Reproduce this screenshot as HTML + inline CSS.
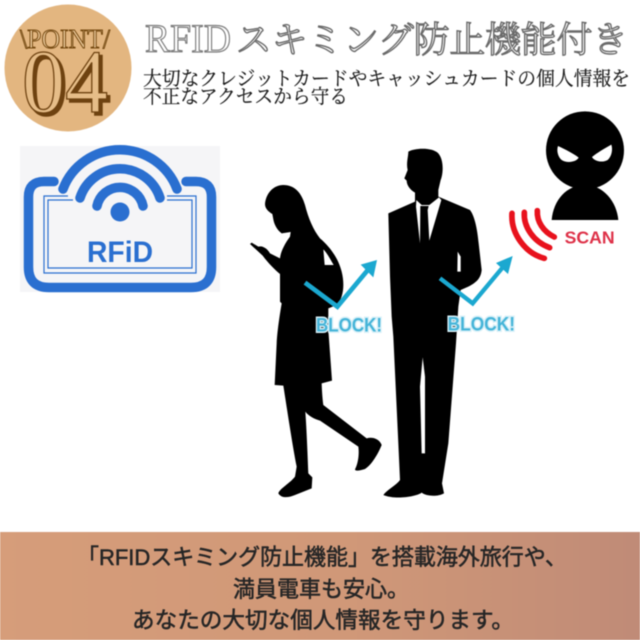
<!DOCTYPE html>
<html lang="ja">
<head>
<meta charset="utf-8">
<title>RFID</title>
<style>
html,body{margin:0;padding:0;background:#fff;width:640px;height:640px;overflow:hidden}
svg{display:block;filter:blur(.5px)}
.serif{font-family:"Liberation Serif","Noto Serif CJK SC",serif}
.sans{font-family:"Liberation Sans","Noto Sans CJK JP",sans-serif}
</style>
</head>
<body>
<svg width="640" height="640" viewBox="0 0 640 640" xmlns="http://www.w3.org/2000/svg">
<defs>
<linearGradient id="band" x1="0" x2="1" y1="0" y2="0">
<stop offset="0" stop-color="#d69d7a"/><stop offset=".55" stop-color="#d09878"/><stop offset="1" stop-color="#c08b77"/>
</linearGradient>
</defs>
<rect width="640" height="640" fill="#fff"/>

<!-- Badge -->
<circle cx="68" cy="68" r="63.5" fill="#e3b680"/>
<text class="serif" x="20" y="48" font-size="27" textLength="90" lengthAdjust="spacingAndGlyphs" fill="#ecca9c" stroke="#74480f" stroke-width="1">\POINT/</text>
<text class="serif" x="25" y="115" font-size="90" textLength="86" lengthAdjust="spacingAndGlyphs" fill="#6e4210" stroke="#6e4210" stroke-width="1.500">04</text>
<text class="serif" x="22" y="112" font-size="90" textLength="86" lengthAdjust="spacingAndGlyphs" fill="#e6bd88" stroke="#6e4210" stroke-width="1.300">04</text>

<!-- Title -->
<text class="serif" x="145" y="52" font-size="40" textLength="86" lengthAdjust="spacingAndGlyphs" fill="#fff" stroke="#7c7c7c" stroke-width="1.200">RFID</text>
<text class="serif" x="236" y="52" font-size="36" textLength="392" lengthAdjust="spacingAndGlyphs" fill="#fff" stroke="#6a6a6a" stroke-width="1.400">スキミング防止機能付き</text>
<g class="serif" fill="#1c1c1c" stroke="#1c1c1c" stroke-width=".2" font-size="19.500">
<text x="143" y="85" textLength="487" lengthAdjust="spacingAndGlyphs">大切なクレジットカードやキャッシュカードの個人情報を</text>
<text x="143" y="103" textLength="205" lengthAdjust="spacingAndGlyphs">不正なアクセスから守る</text>
</g>

<!-- RFID icon -->
<rect x="20" y="146" width="200" height="146" fill="#f5f5f7"/>
<g fill="none" stroke="#2a6fd0" stroke-linecap="round">
<path d="M54 181.500H44Q28.500 181.500 28.500 197V267Q28.500 287.500 49 287.500H191Q211.500 287.500 211.500 267V197Q211.500 181.500 196 181.500H186" stroke-width="9.500"/>
<path d="M63 189A61 61 0 0 1 177 189" stroke-width="9.500"/>
<path d="M80 198A42 42 0 0 1 160 198" stroke-width="9.500"/>
<path d="M97 206A23.500 23.500 0 0 1 143 206" stroke-width="9.500"/>
</g>
<circle cx="120" cy="212" r="9.500" fill="#2a6fd0"/>
<g fill="none" stroke="#2a6fd0" stroke-width="1.200">
<path d="M68 196H44V273H196V196H167"/>
<path d="M73 200H48V268H192V200H167"/>
</g>
<text class="sans" x="87" y="262" font-size="30" font-weight="700" textLength="66" lengthAdjust="spacingAndGlyphs" fill="#2a6fd0">RFiD</text>

<!-- Woman -->
<g transform="translate(240 130) scale(.33333)">
<path fill="#000" d="M130 165C165 165 185 190 195 225C205 265 220 300 240 325C270 350 295 385 305 425C315 465 310 505 290 525L265 535L265 600L276 752L245 760C246 790 248 810 250 825L380 925C395 920 418 925 425 945C415 970 395 1005 375 1017C360 1022 345 1024 345 1018C355 1000 358 970 355 950L240 872C225 868 205 858 196 845C200 900 203 980 205 1030L217 1042L215 1075L165 1095C145 1103 125 1106 115 1090C120 1075 150 1060 165 1040L170 1010C158 950 140 830 130 767L104 765L110 640C112 600 120 550 125 520L120 515L120 432C105 420 85 400 68 377L30 342L35 338L55 350C70 345 85 360 90 370L120 385C122 365 135 340 150 320L152 306L125 310C112 300 103 285 100 268L97 252C85 245 75 235 75 222C78 190 100 165 130 165Z"/>
<path fill="#fff" d="M250 358C262 370 272 390 281 405L254 405Z"/>
<path fill="none" stroke="#1ba8d0" stroke-width="14" stroke-linejoin="miter" d="M195 458L292 530L385 418"/>
<path fill="#1ba8d0" d="M411 390L362 404L400 442Z"/>
<text class="sans" x="228" y="604" font-size="58" font-weight="700" textLength="198" lengthAdjust="spacingAndGlyphs" fill="#45b4d8" stroke="#d8f0f8" stroke-width="9" paint-order="stroke">BLOCK!</text>
</g>

<!-- Man -->
<g transform="translate(370 110) scale(.33333)">
<path fill="#000" d="M115 125C130 115 185 110 205 130C222 150 220 190 212 210L205 240V260L300 300C315 320 322 360 326 400L335 480C333 500 325 515 295 530L272 540L265 590L258 700L235 1000L216 1120L222 1150C205 1160 170 1160 155 1148C140 1160 75 1170 40 1155C50 1140 80 1125 90 1110L85 1000L70 680L65 620L60 500L55 310L135 275V248C120 240 110 225 110 212L103 205L113 180C108 160 115 140 115 125Z"/>
<path fill="#fff" d="M139 270L155 285H178L207 262L214 270L178 392L173 300L176 288H151L150 400L138 290Z"/>
<path fill="#fff" d="M263 425L272 440V485H262Z"/>
<path fill="#fff" d="M158 742L165 800L165 1030H155L150 830Z"/>
<path fill="none" stroke="#1ba8d0" stroke-width="13" d="M210 505L308 580L400 470"/>
<path fill="#1ba8d0" d="M428 438L378 459L414 492Z"/>
<text class="sans" x="233" y="661" font-size="58" font-weight="700" textLength="202" lengthAdjust="spacingAndGlyphs" fill="#45b4d8" stroke="#d8f0f8" stroke-width="9" paint-order="stroke">BLOCK!</text>

<!-- Thief -->
<circle cx="645" cy="121" r="117" fill="#000"/>
<path fill="#000" d="M545 330C550 270 590 225 645 225C700 225 740 275 745 330Z"/>
<path fill="#fff" d="M564 108C585 118 610 130 626 143C618 157 590 160 575 150C564 141 559 122 564 108Z"/>
<path fill="#fff" d="M724 104C703 116 682 128 666 141C674 156 700 158 713 150C725 140 729 118 724 104Z"/>

<!-- Signal -->
<g fill="none" stroke="#e8121d" stroke-width="17" stroke-linecap="round">
<path d="M502 302C500 335 520 365 553 381"/>
<path d="M463 307C460 350 490 395 539 413"/>
<path d="M426 310C422 370 465 430 523 445"/>
</g>
<text class="sans" x="584" y="400" font-size="54" font-weight="700" textLength="150" lengthAdjust="spacingAndGlyphs" fill="#de3148">SCAN</text>
</g>

<!-- Footer -->
<rect x="0" y="532" width="640" height="108" fill="url(#band)"/>
<g class="sans" fill="#262626" font-size="22.500" text-anchor="middle" stroke="#262626" stroke-width=".55">
<text x="322" y="565" textLength="490" lengthAdjust="spacingAndGlyphs">「RFIDスキミング防止機能」を搭載海外旅行や、</text>
<text x="321" y="597" textLength="176" lengthAdjust="spacingAndGlyphs">満員電車も安心。</text>
<text x="323" y="628" textLength="382" lengthAdjust="spacingAndGlyphs">あなたの大切な個人情報を守ります。</text>
</g>
</svg>
</body>
</html>
